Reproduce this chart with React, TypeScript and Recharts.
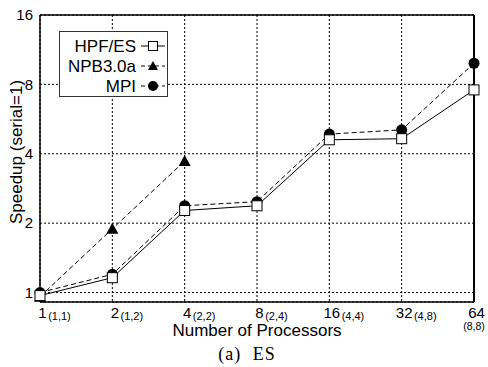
import React from 'react';
import {
    LineChart,
    Line,
    XAxis,
    YAxis,
    CartesianGrid,
    Legend,
    ReferenceLine,
} from 'recharts';

// processor counts and (x,y) decomposition
const procs = ['1', '2', '4', '8', '16', '32', '64'];
const decomp = ['(1,1)', '(1,2)', '(2,2)', '(2,4)', '(4,4)', '(4,8)', '(8,8)'];

// speedup values
const hpfEs = [0.97, 1.16, 2.27, 2.38, 4.6, 4.65, 7.57];
const npb30a = [0.96, 1.89, 3.72, null, null, null, null];
const mpi = [1.0, 1.2, 2.38, 2.48, 4.87, 5.08, 9.88];

const yTicks = [1, 2, 4, 8, 16];

const data = procs.map((p, i) => ({
    idx: i,
    hpf: hpfEs[i],
    npb: npb30a[i],
    mpi: mpi[i],
}));

const SANS = '"Liberation Sans", Arial, Helvetica, sans-serif';

// eslint-disable-next-line @typescript-eslint/no-explicit-any
const SquareDot = (props: any) => {
    const { cx, cy, index } = props;
    if (cx == null || cy == null) return <g key={`s-${index}`} />;
    return <rect key={`s-${index}`} x={cx - 5} y={cy - 5} width={10} height={10} fill="#fff" stroke="#000" strokeWidth={1} />;
};

// eslint-disable-next-line @typescript-eslint/no-explicit-any
const TriangleDot = (props: any) => {
    const { cx, cy, index } = props;
    if (cx == null || cy == null) return <g key={`t-${index}`} />;
    return <polygon key={`t-${index}`} points={`${cx},${cy - 6} ${cx - 6},${cy + 5} ${cx + 6},${cy + 5}`} fill="#000" />;
};

// eslint-disable-next-line @typescript-eslint/no-explicit-any
const CircleDot = (props: any) => {
    const { cx, cy, index } = props;
    if (cx == null || cy == null) return <g key={`c-${index}`} />;
    return <circle key={`c-${index}`} cx={cx} cy={cy} r={5.5} fill="#000" />;
};

// eslint-disable-next-line @typescript-eslint/no-explicit-any
const ProcTick = (props: any) => {
    const { x, y, payload } = props;
    const i = payload.value as number;
    const label = procs[i];
    const sub = decomp[i];
    const w = label.length * 8.3;
    const cx = x + 2.5;
    if (i === procs.length - 1) {
        // last label: decomposition goes underneath
        return (
            <g>
                <text x={cx} y={y + 16} textAnchor="middle" fontFamily={SANS} fontSize={15} fill="#000">{label}</text>
                <text x={x} y={y + 28} textAnchor="middle" fontFamily={SANS} fontSize={10.5} fill="#000">{sub}</text>
            </g>
        );
    }
    return (
        <g>
            <text x={cx} y={y + 16} textAnchor="middle" fontFamily={SANS} fontSize={15} fill="#000">{label}</text>
            <text x={cx + w / 2 + 1.5} y={y + 18} textAnchor="start" fontFamily={SANS} fontSize={11} fill="#000">{sub}</text>
        </g>
    );
};

const legendRows = [
    { name: 'HPF/ES', dash: undefined, marker: 'square' },
    { name: 'NPB3.0a', dash: '4 3', marker: 'triangle' },
    { name: 'MPI', dash: '4 3', marker: 'circle' },
];

const ChartLegend = () => (
    <div style={{ width: 109, height: 66, border: '1px solid #333', background: '#fff', boxSizing: 'border-box' }}>
        <svg width={107} height={64}>
            {legendRows.map((r, i) => {
                const y = 14 + i * 20;
                return (
                    <g key={r.name}>
                        <text x={76} y={y + 6} textAnchor="end" fontFamily={SANS} fontSize={17} fill="#000">{r.name}</text>
                        <line x1={81} x2={105} y1={y} y2={y} stroke="#000" strokeDasharray={r.dash} />
                        {r.marker === 'square' && <rect x={88.5} y={y - 4.5} width={9} height={9} fill="#fff" stroke="#000" />}
                        {r.marker === 'triangle' && <polygon points={`93,${y - 5} 88,${y + 4} 98,${y + 4}`} fill="#000" />}
                        {r.marker === 'circle' && <circle cx={93} cy={y} r={5} fill="#000" />}
                    </g>
                );
            })}
        </svg>
    </div>
);

export default function App() {
    return (
        <div style={{ position: 'absolute', left: 0, top: 0, width: 488, height: 367, background: '#fff' }}>
            <LineChart width={488} height={367} data={data} margin={{ top: 15, right: 14, left: 0, bottom: 0 }}>
                <CartesianGrid stroke="#000" strokeDasharray="2 2" strokeWidth={1} />
                <XAxis
                    dataKey="idx"
                    type="number"
                    domain={[0, 6]}
                    ticks={[0, 1, 2, 3, 4, 5, 6]}
                    height={65}
                    tickSize={0}
                    tickMargin={0}
                    tickLine={false}
                    axisLine={{ stroke: '#000', strokeWidth: 1.5 }}
                    tick={<ProcTick />}
                    label={{ value: 'Number of Processors', position: 'insideBottom', offset: 31, fontFamily: SANS, fontSize: 17, fill: '#000' }}
                />
                <YAxis
                    type="number"
                    scale="log"
                    domain={[0.91, 16]}
                    allowDataOverflow
                    ticks={yTicks}
                    width={40}
                    tickSize={0}
                    tickMargin={7}
                    tickLine={false}
                    axisLine={{ stroke: '#000', strokeWidth: 1.5 }}
                    tick={{ fontFamily: SANS, fontSize: 15, fill: '#000' }}
                    label={{
                        content: () => (
                            <text transform="translate(22,152) rotate(-90)" textAnchor="middle" fontFamily={SANS} fontSize={17} fill="#000">
                                Speedup (serial=1)
                            </text>
                        ),
                    }}
                />
                <ReferenceLine y={16} stroke="#000" strokeWidth={1.5} />
                <ReferenceLine x={6} stroke="#000" strokeWidth={2} />
                <Legend
                    layout="vertical"
                    align="center"
                    verticalAlign="middle"
                    content={<ChartLegend />}
                    wrapperStyle={{ left: 59, top: 31, width: 109, height: 66 }}
                />
                <Line dataKey="mpi" name="MPI" stroke="#000" strokeWidth={1} strokeDasharray="5 3" dot={CircleDot} isAnimationActive={false} />
                <Line dataKey="npb" name="NPB3.0a" stroke="#000" strokeWidth={1} strokeDasharray="5 3" dot={TriangleDot} isAnimationActive={false} />
                <Line dataKey="hpf" name="HPF/ES" stroke="#000" strokeWidth={1} dot={SquareDot} isAnimationActive={false} />
            </LineChart>
            <div
                style={{
                    position: 'absolute',
                    left: 0,
                    top: 345,
                    width: 494,
                    textAlign: 'center',
                    fontFamily: '"Liberation Serif", "Times New Roman", serif',
                    fontSize: 18,
                    lineHeight: '18px',
                    letterSpacing: 1,
                    wordSpacing: 6,
                }}
            >
                (a) ES
            </div>
        </div>
    );
}
